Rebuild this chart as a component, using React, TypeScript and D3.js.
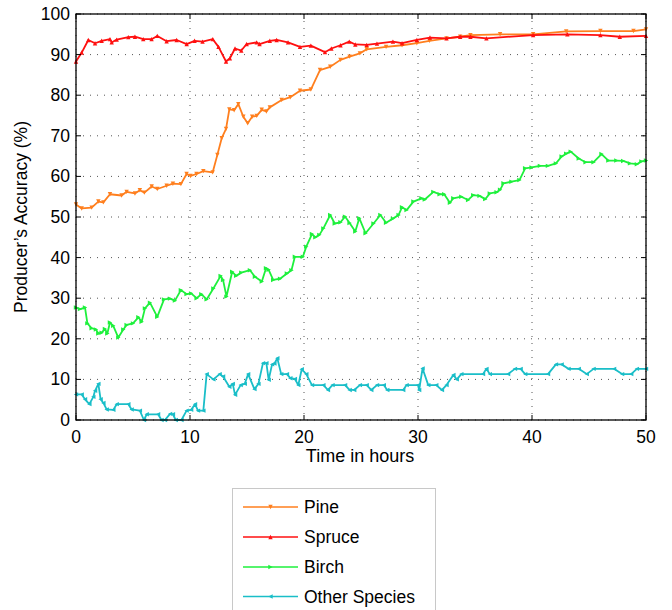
import React from "react";
import * as d3 from "d3";

const pineHours = [0,0.5,1.37,1.96,2.4,2.98,4.0,4.44,5.17,5.6,6.0,6.64,7.13,7.95,8.5,9.2,9.7,10.05,10.57,11.17,11.99,12.4,12.78,13.16,13.45,13.87,14.24,14.68,15.06,15.45,15.85,16.29,16.7,17.0,18.04,18.8,19.65,20.6,21.4,22.3,23.2,24.0,24.9,25.5,27.2,28.6,29.9,31.0,32.5,33.7,34.6,37.2,40.1,43.0,46.0,48.9,50];
const pineValues = [53.1,52.1,52.3,53.8,53.6,55.6,55.3,56.2,55.8,56.6,56.0,57.5,56.9,57.7,58.2,58.1,60.6,60.1,60.6,61.3,61.0,65.3,69.4,71.7,76.5,76.3,77.8,74.7,73.1,74.7,74.9,76.4,76.0,77.0,78.8,79.5,81.1,81.4,86.2,87.0,88.7,89.5,90.3,91.3,91.9,92.3,92.8,93.4,94.0,94.4,94.8,95.0,95.0,95.7,95.8,95.8,96.2];

const spruceHours = [0,0.5,1.08,1.67,2.25,2.98,3.13,3.57,4.59,5.17,5.9,6.63,7.13,7.95,8.83,9.71,10.4,11.1,12.0,12.5,13.16,13.5,13.95,14.5,14.97,15.85,16.1,17.0,17.6,18.6,19.65,20.6,21.84,22.4,23.2,23.97,24.5,25.5,26.4,27.8,28.6,29.9,31.05,32.5,33.7,34.6,36.0,40.1,43.1,46.0,47.7,50];
const spruceValues = [88.3,90.5,93.6,92.8,93.4,93.8,93.0,93.7,94.3,94.4,93.8,93.8,94.6,93.3,93.6,92.6,93.4,93.2,93.8,91.9,88.3,89.1,91.5,91.0,92.6,93.0,92.6,93.4,93.6,93.0,91.9,92.2,90.6,91.5,92.3,93.2,92.5,92.4,92.7,93.2,92.8,93.6,94.2,94.0,94.4,94.4,94.0,94.8,95.0,94.8,94.4,94.6];

const birchHours = [0,0.35,0.79,1.0,1.37,1.75,1.96,2.25,2.54,2.75,2.98,3.27,3.71,4.15,4.44,5.0,5.47,5.76,6.05,6.49,7.13,7.72,8.25,8.68,9.2,9.7,10.1,10.58,11.0,11.46,12.05,12.69,12.9,13.2,13.7,14.05,14.5,15.26,15.7,16.3,16.67,16.9,17.3,17.9,18.5,18.9,19.2,19.9,20.2,20.7,21.0,21.35,21.7,22.3,22.7,23.2,23.6,24.0,24.5,24.85,25.4,26.1,26.7,27.2,27.8,28.3,28.6,29.0,29.6,30.3,30.6,31.35,31.9,32.3,32.8,33.1,33.8,34.4,34.85,35.4,35.9,36.3,36.9,37.2,37.5,38.2,38.9,39.4,39.97,40.7,41.4,42.1,42.6,43.0,43.4,44.1,44.7,45.4,46.1,46.7,47.4,48.0,48.6,49.2,49.6,50];
const birchValues = [27.7,27.3,27.7,23.8,22.6,22.3,21.3,21.5,22.4,21.3,24.0,23.2,20.3,22.3,23.4,23.8,25.3,24.2,27.5,28.9,25.4,29.7,29.9,29.4,32.0,31.0,31.2,30.0,31.0,29.7,32.4,35.5,34.5,30.4,36.5,35.5,36.3,36.9,35.3,34.1,37.4,37.0,34.5,34.8,36.1,36.9,40.2,40.2,42.7,45.8,45.0,45.6,47.2,50.5,48.4,48.7,50.1,48.5,46.4,49.7,46.0,48.4,50.5,48.6,49.6,50.5,52.4,51.7,53.8,54.6,54.3,56.2,55.6,55.6,53.5,54.6,55.0,54.2,55.4,55.2,54.4,55.8,56.1,56.7,58.3,58.7,59.1,62.0,62.2,62.6,62.6,63.2,64.9,65.6,66.1,64.4,63.5,63.5,65.5,63.9,63.9,63.8,63.2,63.0,63.7,63.9];

const otherHours = [0,0.5,0.79,1.17,1.52,1.67,1.96,2.16,2.4,2.69,3.27,3.57,4.59,4.88,5.6,5.96,6.2,7.2,7.5,7.8,8.25,8.5,8.75,9.25,9.7,10.1,10.44,10.7,11.17,11.46,12.05,12.6,12.9,13.45,13.75,13.95,14.44,14.8,15.1,15.65,16.0,16.4,16.7,16.9,17.2,17.4,17.66,18.0,18.5,18.8,19.2,19.5,19.8,20.2,20.7,21.7,22.1,22.5,23.6,24.0,24.4,24.9,25.5,25.9,26.4,27.0,27.3,28.7,29.0,30.0,30.1,30.4,30.9,31.6,32.1,32.5,33.1,33.4,33.8,35.7,36.0,36.3,37.9,38.5,39.0,39.4,41.4,42.1,42.6,43.2,44.1,44.8,45.4,47.2,47.9,48.7,49.2,50];
const otherValues = [6.3,6.3,5.1,3.9,5.7,7.2,8.9,5.1,4.2,2.6,2.5,3.9,3.9,2.6,2.3,0,1.4,1.4,0,0,1.5,1.4,0,0,2.3,2.5,3.9,2.3,2.3,11.3,10.0,11.3,10.7,8.2,8.9,6.2,8.6,8.9,11.3,7.6,8.9,14.0,14.0,9.9,13.7,13.9,15.2,11.3,11.3,10.3,10.1,8.6,12.5,11.3,8.6,8.6,7.4,8.6,8.6,7.4,7.4,8.6,8.6,7.4,8.6,8.6,7.4,7.4,8.6,8.6,7.4,12.7,8.6,8.6,7.4,8.6,11.1,10.0,11.3,11.3,12.6,11.3,11.3,12.6,12.6,11.3,11.3,13.7,13.7,12.6,12.6,11.3,12.6,12.6,11.3,11.3,12.6,12.6];

const seriesNames = ["Pine", "Spruce", "Birch", "Other Species"];
const seriesColors = ["#ff7f1e", "#ff1010", "#1ef03c", "#1abec8"];
const seriesHours = [pineHours, spruceHours, birchHours, otherHours];
const seriesValues = [pineValues, spruceValues, birchValues, otherValues];
const markerKinds = ["down", "up", "right", "left"];

const xTicks = [0, 10, 20, 30, 40, 50];
const yTicks = [0, 10, 20, 30, 40, 50, 60, 70, 80, 90, 100];
const xTitle = "Time in hours";
const yTitle = "Producer’s Accuracy (%)";

const W = 672, H = 610;
const L = 76, R = 646, T = 14, B = 420;
const FONT = "'Liberation Sans', Arial, Helvetica, sans-serif";

function marker(kind: string, x: number, y: number, s = 2.2) {
  if (kind === "up") return `M${x},${y - s}L${x + s},${y + s}L${x - s},${y + s}Z`;
  if (kind === "down") return `M${x},${y + s}L${x + s},${y - s}L${x - s},${y - s}Z`;
  if (kind === "right") return `M${x + s},${y}L${x - s},${y - s}L${x - s},${y + s}Z`;
  return `M${x - s},${y}L${x + s},${y - s}L${x + s},${y + s}Z`;
}

export default function App() {
  const x = d3.scaleLinear().domain([0, 50]).range([L, R]);
  const y = d3.scaleLinear().domain([0, 100]).range([B, T]);
  const line = d3.line<[number, number]>().x(d => x(d[0])).y(d => y(d[1]));

  const legendX = 232.5, legendY = 488.5;
  const rowY = [507, 537, 567, 596.5];

  return (
    <svg width={W} height={H} style={{ position: "absolute", left: 0, top: 0, background: "#fff" }} fontFamily={FONT}>
      <rect x={0} y={0} width={W} height={H} fill="#fff" />
      {xTicks.map(t => (
        <line key={"gx" + t} x1={x(t)} x2={x(t)} y1={T} y2={B} stroke="#555" strokeWidth={1} strokeDasharray="1,6" />
      ))}
      {yTicks.map(t => (
        <line key={"gy" + t} x1={L} x2={R} y1={y(t)} y2={y(t)} stroke="#555" strokeWidth={1} strokeDasharray="1,6" />
      ))}
      {seriesNames.map((n, i) => {
        const pts: [number, number][] = seriesHours[i].map((h, j) => [h, seriesValues[i][j]]);
        return (
          <g key={n}>
            <path d={line(pts) || ""} fill="none" stroke={seriesColors[i]} strokeWidth={1.8} strokeLinejoin="round" />
            {pts.map((p, j) => (
              <path key={j} d={marker(markerKinds[i], x(p[0]), y(p[1]))} fill={seriesColors[i]} stroke="none" />
            ))}
          </g>
        );
      })}
      {xTicks.map(t => (
        <g key={"tx" + t}>
          <line x1={x(t)} x2={x(t)} y1={B} y2={B - 5} stroke="#000" />
          <line x1={x(t)} x2={x(t)} y1={T} y2={T + 5} stroke="#000" />
          <text x={x(t)} y={B + 23} textAnchor="middle" fontSize={17.5} fill="#000">{t}</text>
        </g>
      ))}
      {yTicks.map(t => (
        <g key={"ty" + t}>
          <line x1={L} x2={L + 5} y1={y(t)} y2={y(t)} stroke="#000" />
          <line x1={R} x2={R - 5} y1={y(t)} y2={y(t)} stroke="#000" />
          <text x={L - 6} y={y(t) + 6} textAnchor="end" fontSize={17.5} fill="#000">{t}</text>
        </g>
      ))}
      <rect x={L} y={T} width={R - L} height={B - T} fill="none" stroke="#000" strokeWidth={1.3} />
      <text x={(L + R) / 2 - 1} y={462} textAnchor="middle" fontSize={18} fill="#000">{xTitle}</text>
      <text transform={`translate(27,${(T + B) / 2}) rotate(-90)`} textAnchor="middle" fontSize={17.5} fill="#000">{yTitle}</text>
      <rect x={legendX} y={legendY} width={203} height={130} fill="#fff" stroke="#c8c8c8" strokeWidth={1} />
      {seriesNames.map((n, i) => (
        <g key={"lg" + n}>
          <line x1={243} x2={298} y1={rowY[i]} y2={rowY[i]} stroke={seriesColors[i]} strokeWidth={1.6} />
          <path d={marker(markerKinds[i], 270.5, rowY[i])} fill={seriesColors[i]} />
          <text x={304} y={rowY[i] + 6} fontSize={17.5} fill="#000">{n}</text>
        </g>
      ))}
    </svg>
  );
}
